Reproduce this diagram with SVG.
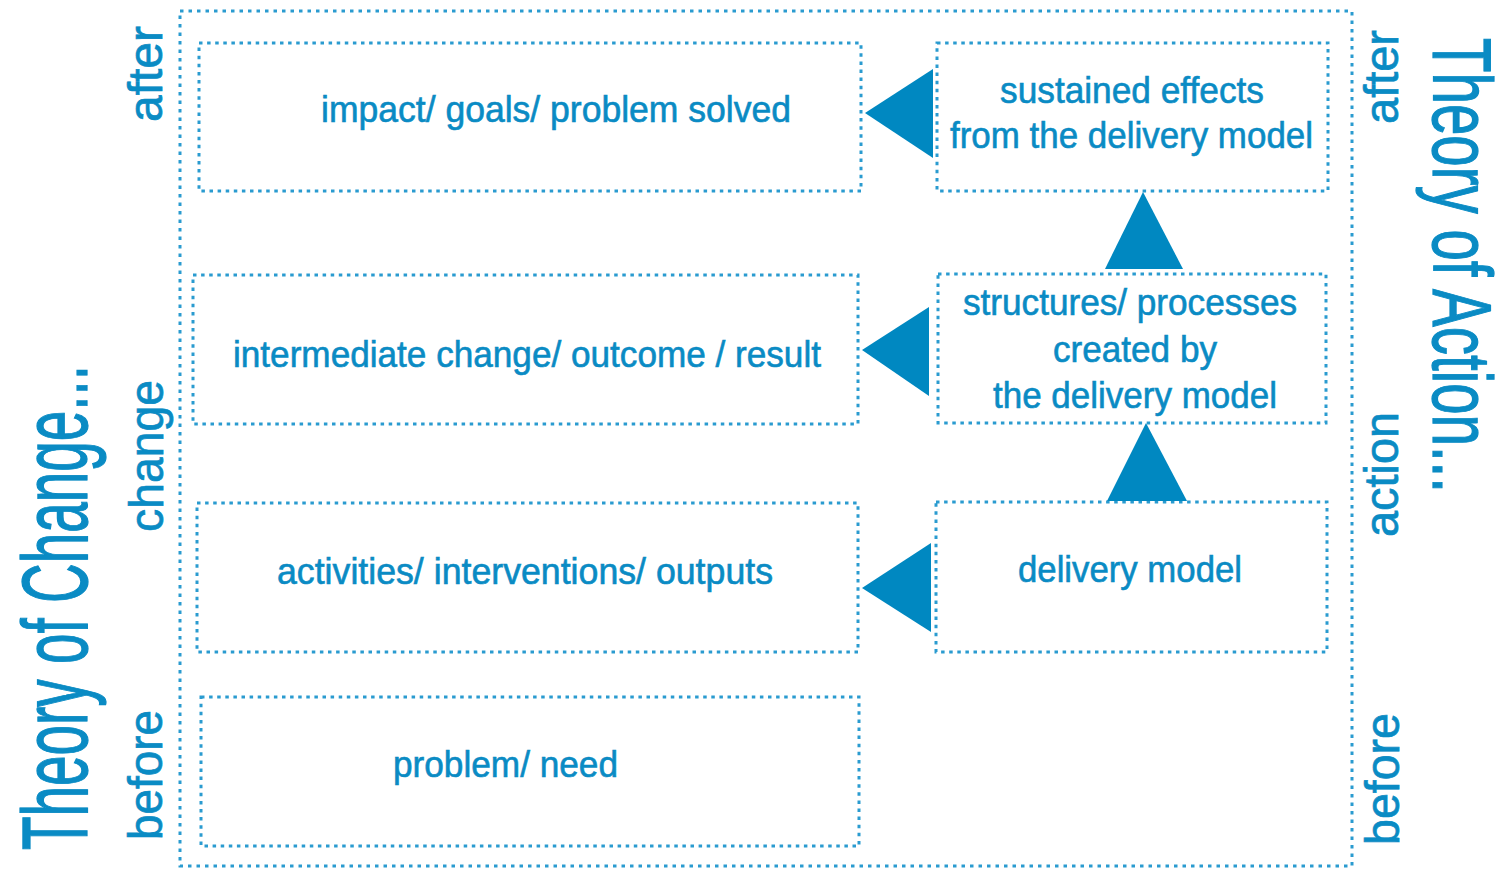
<svg xmlns="http://www.w3.org/2000/svg" width="1509" height="871" viewBox="0 0 1509 871">
  <style>
    .box { fill: none; stroke: #2a9bd0; stroke-width: 3; stroke-dasharray: 3.5 4.6; }
    .outer { fill: none; stroke: #2a9bd0; stroke-width: 3; stroke-dasharray: 3.5 5; }
    .lbl { font-family: "Liberation Sans", Arial, sans-serif; font-size: 36px; fill: #0a8bc4; stroke: #0a8bc4; stroke-width: 0.6; text-anchor: middle; }
    .side { font-family: "Liberation Sans", Arial, sans-serif; font-size: 48px; fill: #0a8bc4; stroke: #0a8bc4; stroke-width: 0.7; }
    .title { font-family: "Liberation Sans", Arial, sans-serif; font-size: 92px; fill: #0a8bc4; stroke: #0a8bc4; stroke-width: 1.2; }
    .tri { fill: #0088c1; }
  </style>
  <rect width="1509" height="871" fill="#ffffff"/>

  <g id="frame">
    <rect class="outer" x="180" y="11" width="1172" height="855"/>
  </g>

  <g id="impact">
    <rect class="box" x="199" y="43" width="662" height="148"/>
    <text class="lbl" x="556" y="122" textLength="470" lengthAdjust="spacingAndGlyphs">impact/ goals/ problem solved</text>
  </g>
  <g id="intermediate">
    <rect class="box" x="193" y="275" width="665" height="149"/>
    <text class="lbl" x="527" y="367" textLength="588" lengthAdjust="spacingAndGlyphs">intermediate change/ outcome / result</text>
  </g>
  <g id="activities">
    <rect class="box" x="197" y="503" width="661" height="149"/>
    <text class="lbl" x="525" y="584" textLength="496" lengthAdjust="spacingAndGlyphs">activities/ interventions/ outputs</text>
  </g>
  <g id="problem">
    <rect class="box" x="201" y="697" width="658" height="149"/>
    <text class="lbl" x="505.5" y="777" textLength="225" lengthAdjust="spacingAndGlyphs">problem/ need</text>
  </g>
  <g id="sustained">
    <rect class="box" x="937" y="43" width="391" height="148"/>
    <text class="lbl" x="1132" y="103" textLength="264" lengthAdjust="spacingAndGlyphs">sustained effects</text>
    <text class="lbl" x="1131.5" y="148" textLength="363" lengthAdjust="spacingAndGlyphs">from the delivery model</text>
  </g>
  <g id="structures">
    <rect class="box" x="938" y="274" width="388" height="149"/>
    <text class="lbl" x="1130" y="315" textLength="334" lengthAdjust="spacingAndGlyphs">structures/ processes</text>
    <text class="lbl" x="1135" y="362" textLength="164" lengthAdjust="spacingAndGlyphs">created by</text>
    <text class="lbl" x="1135" y="408" textLength="284" lengthAdjust="spacingAndGlyphs">the delivery model</text>
  </g>
  <g id="delivery">
    <rect class="box" x="936" y="502" width="391" height="150"/>
    <text class="lbl" x="1130" y="582" textLength="224" lengthAdjust="spacingAndGlyphs">delivery model</text>
  </g>

  <g id="connectors">
    <polygon class="tri" points="865,113 933,69 933,158"/>
    <polygon class="tri" points="862,350 929,307 929,396"/>
    <polygon class="tri" points="862,588 931,543 931,632"/>
    <polygon class="tri" points="1143,192 1105,269 1183,269"/>
    <polygon class="tri" points="1146,423 1107,501 1187,501"/>
  </g>

  <g id="theory-of-change">
    <text class="title" transform="translate(87,850) rotate(-90)" textLength="485" lengthAdjust="spacingAndGlyphs">Theory of Change...</text>
  </g>
  <g id="left-labels">
    <text class="side" transform="translate(162,840) rotate(-90)" textLength="130" lengthAdjust="spacingAndGlyphs">before</text>
    <text class="side" transform="translate(163,532) rotate(-90)" textLength="152" lengthAdjust="spacingAndGlyphs">change</text>
    <text class="side" transform="translate(162,122) rotate(-90)" textLength="96" lengthAdjust="spacingAndGlyphs">after</text>
  </g>
  <g id="theory-of-action">
    <text class="title" style="font-size:84px" transform="translate(1433,38) rotate(90)" textLength="455" lengthAdjust="spacingAndGlyphs">Theory of Action...</text>
  </g>
  <g id="right-labels">
    <text class="side" transform="translate(1399,845) rotate(-90)" textLength="132" lengthAdjust="spacingAndGlyphs">before</text>
    <text class="side" transform="translate(1398,537) rotate(-90)" textLength="125" lengthAdjust="spacingAndGlyphs">action</text>
    <text class="side" transform="translate(1398,124) rotate(-90)" textLength="94" lengthAdjust="spacingAndGlyphs">after</text>
  </g>
</svg>
